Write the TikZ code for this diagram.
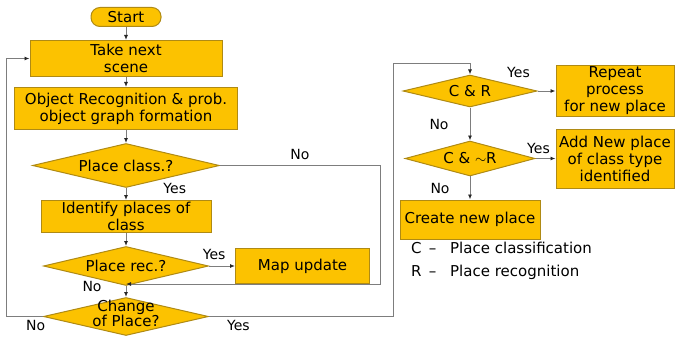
\documentclass[tikz,border=0pt]{standalone}
\usepackage{fontspec}
\setmainfont{DejaVu Sans}
\usetikzlibrary{positioning,shapes.geometric,arrows.meta}
\definecolor{boxfill}{RGB}{252,194,0}
\definecolor{boxline}{RGB}{175,138,20}
\definecolor{wire}{RGB}{125,125,125}
\newcommand{\twol}[2]{\smash{\makebox[0pt]{\raisebox{-3pt}{\begin{tabular}{@{}c@{}}#1\\[-2pt]#2\end{tabular}}}}}

\begin{document}
\begin{tikzpicture}[x=1pt,y=-1pt,font=\fontsize{15}{17}\selectfont,
    box/.style={draw=boxline,fill=boxfill,line width=1pt,align=center,inner sep=1pt},
    dec/.style={diamond,draw=boxline,fill=boxfill,line width=1pt,aspect=4,inner sep=0pt},
    line/.style={draw=wire,line width=0.9pt},
    arr/.style={line,-{Latex[length=5pt,width=4pt,color=black!85]}},
    lbl/.style={inner sep=0pt,font=\fontsize{14}{16}\selectfont}]

\useasboundingbox (0,0) rectangle (675,337);

\node[box,rounded corners=9pt,minimum width=70pt,minimum height=19pt] (start) at (126,17) {Start};
\node[box,minimum width=192pt,minimum height=36pt,below=13pt of start] (take) {Take next\\scene};
\node[box,minimum width=223pt,minimum height=42pt,below=10pt of take] (obj) {Object Recognition \& prob.\\object graph formation};
\node[dec,minimum width=187pt,minimum height=44pt,below=13pt of obj] (class) {Place class.?};
\node[box,minimum width=170pt,minimum height=32pt,below=12pt of class] (ident) {Identify places of\\class};
\node[dec,minimum width=165pt,minimum height=39pt,below=13pt of ident] (rec) {Place rec.?};
\node[dec,minimum width=165pt,minimum height=38pt,below=11pt of rec] (change) {\twol{Change}{of Place?}};
\node[box,minimum width=134pt,minimum height=35pt,right=26pt of rec] (map) {Map update};

\node[dec,minimum width=134pt,minimum height=32pt] (cr) at (470,91) {C \& R};
\node[dec,minimum width=130pt,minimum height=35pt,below=33pt of cr] (crn) {C \& $\sim$R};
\node[box,minimum width=140pt,minimum height=39pt,below=23pt of crn] (create) {Create new place};
\node[box,minimum width=118pt,minimum height=43pt,right=18pt of cr] (rep) {Repeat\\process\\for new place};
\node[box,minimum width=118pt,minimum height=59pt,right=20pt of crn] (add) {Add New place\\of class type\\identified};

\node[anchor=west,inner sep=0pt,font=\fontsize{15}{17}\selectfont] (lc) at (411,248) {C\, –\hspace{9pt} Place classification};
\node[anchor=west,inner sep=0pt,font=\fontsize{15}{17}\selectfont] (lr) at (411,272) {R\, –\hspace{9pt} Place recognition};

\coordinate (ne) at (380,284);
\coordinate (lp) at (6,0);
\coordinate (rp) at (393,63);

\draw[arr] (start) -- (take);
\draw[arr] (take) -- (obj);
\draw[arr] (obj) -- (class);
\draw[arr] (class) -- node[lbl,pos=0,right=37pt] {Yes} (ident);
\draw[arr] (ident) -- (rec);
\draw[arr] (rec) -- node[lbl,pos=0.2,above=6pt] {Yes} (map);
\draw[arr] (rec) -- node[lbl,pos=0.05,left=24pt] {No} (change);

\draw[arr] (class.east) -- node[lbl,midway,above=5pt] {No} (class.east -| ne) -- (ne) -- (rec.south |- ne);
\draw[line] (map.south) -- (map.south |- ne);

\draw[arr] (change.west) -- node[lbl,pos=0.2,below=3pt] {No} (change.west -| lp) -- (take.west -| lp) -- (take.west);
\draw[arr] (change.east) -- node[lbl,pos=0.16,below=3pt] {Yes} (change.east -| rp) -- (rp) -- (rp -| cr.north) -- (cr.north);

\draw[arr] (cr) -- node[lbl,pos=0,xshift=-19pt,yshift=19pt] {Yes} (rep);
\draw[arr] (cr) -- node[lbl,midway,left=21pt] {No} (crn);
\draw[arr] (crn) -- node[lbl,pos=0.15,above=4pt] {Yes} (add);
\draw[arr] (crn) -- node[lbl,midway,left=20pt] {No} (create);
\end{tikzpicture}
\end{document}
